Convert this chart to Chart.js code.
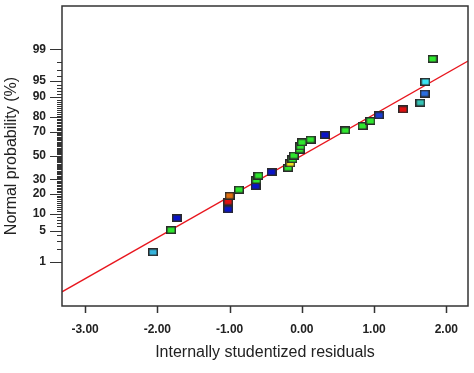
<!DOCTYPE html>
<html lang="en">
<head>
  <meta charset="UTF-8">
  <title>Normal probability plot of residuals</title>
  <script src="https://cdn.jsdelivr.net/npm/chart.js"></script>
  <style>
    html, body { margin: 0; padding: 0; background: #fff; }
  </style>
</head>
<body>
<canvas id="plot" width="474" height="373"></canvas>
<script>
  // residuals, sorted
  const residuals = [-2.06, -1.81, -1.73, -1.02, -1.02, -1.00, -0.87, -0.64, -0.63, -0.60,
                     -0.42, -0.19, -0.16, -0.13, -0.11, -0.03, -0.02, 0.00, 0.12, 0.32,
                     0.60, 0.84, 0.95, 1.07, 1.40, 1.64, 1.70, 1.71, 1.81];
  // normal probability (%) of each point
  const probPct = [1.7, 5.1, 8.5, 11.9, 15.6, 18.9, 22.7, 25.1, 29.5, 33.0,
                   35.9, 39.4, 43.2, 46.8, 50.0, 55.2, 57.9, 61.4, 63.7, 67.4,
                   70.9, 74.2, 77.6, 81.1, 84.4, 87.7, 91.3, 94.7, 98.3];
  const pointColors = ['#36b4dc', '#2ee62e', '#0a14c8', '#0a14c8', '#e01010', '#e07010', '#2ee62e', '#0a14c8', '#2ee62e', '#2ee62e',
                       '#0a14c8', '#2ee62e', '#f0e020', '#2ee62e', '#2ee62e', '#2ee62e', '#2ee62e', '#2ee62e', '#2ee62e', '#0a14c8',
                       '#2ee62e', '#2ee62e', '#2ee62e', '#1a3cd0', '#e01010', '#35c3b5', '#2a6ee0', '#3ae4f4', '#2ee62e'];

  // reference line ends
  const lineX = [-3.32, 2.30];
  const linePct = [0.14, 98.1];

  const xTicks = [-3, -2, -1, 0, 1, 2];
  const yLabels = [1, 5, 10, 20, 30, 50, 70, 80, 90, 95, 99];
  const yTickPct = [];
  for (let p = 1; p <= 99; p++) yTickPct.push(p);

  // inverse normal cdf (Acklam)
  function probit(p) {
    const a = [-3.969683028665376e+01, 2.209460984245205e+02, -2.759285104469687e+02, 1.383577518672690e+02, -3.066479806614716e+01, 2.506628277459239e+00];
    const b = [-5.447609879822406e+01, 1.615858368580409e+02, -1.556989798598866e+02, 6.680131188771972e+01, -1.328068155288572e+01];
    const c = [-7.784894002430293e-03, -3.223964580411365e-01, -2.400758277161838e+00, -2.549732539343734e+00, 4.374664141464968e+00, 2.938163982698783e+00];
    const d = [7.784695709041462e-03, 3.224671290700398e-01, 2.445134137142996e+00, 3.754408661907416e+00];
    const pl = 0.02425;
    if (p < pl) {
      const q = Math.sqrt(-2 * Math.log(p));
      return (((((c[0]*q+c[1])*q+c[2])*q+c[3])*q+c[4])*q+c[5]) / ((((d[0]*q+d[1])*q+d[2])*q+d[3])*q+1);
    }
    if (p > 1 - pl) {
      const q = Math.sqrt(-2 * Math.log(1 - p));
      return -(((((c[0]*q+c[1])*q+c[2])*q+c[3])*q+c[4])*q+c[5]) / ((((d[0]*q+d[1])*q+d[2])*q+d[3])*q+1);
    }
    const q = p - 0.5, r = q * q;
    return (((((a[0]*r+a[1])*r+a[2])*r+a[3])*r+a[4])*r+a[5])*q / (((((b[0]*r+b[1])*r+b[2])*r+b[3])*r+b[4])*r+1);
  }

  // small rectangle markers
  function box(fill) {
    const c = document.createElement('canvas');
    c.width = 10; c.height = 8;
    const g = c.getContext('2d');
    g.fillStyle = '#2a2a2a';
    g.fillRect(0, 0, 10, 8);
    g.fillStyle = fill;
    g.fillRect(1.5, 1.5, 7, 5);
    return c;
  }

  const points = residuals.map((r, i) => ({ x: r, y: probit(probPct[i] / 100) }));
  const fitLine = lineX.map((v, i) => ({ x: v, y: probit(linePct[i] / 100) }));

  const frame = {
    id: 'frame',
    afterDatasetsDraw(chart) {
      const { ctx, chartArea: a, scales: { x, y } } = chart;
      ctx.save();
      ctx.strokeStyle = '#333';
      ctx.lineWidth = 1.5;
      ctx.strokeRect(a.left, a.top, a.right - a.left, a.bottom - a.top);
      ctx.beginPath();
      xTicks.forEach(v => {
        const px = Math.round(x.getPixelForValue(v)) + 0.5;
        ctx.moveTo(px, a.bottom);
        ctx.lineTo(px, a.bottom + 7);
      });
      ctx.stroke();
      ctx.lineWidth = 1;
      ctx.beginPath();
      yTickPct.forEach(p => {
        const py = Math.round(y.getPixelForValue(probit(p / 100))) + 0.5;
        const len = yLabels.includes(p) ? 12 : 5;
        ctx.moveTo(a.left - len, py);
        ctx.lineTo(a.left, py);
      });
      ctx.stroke();
      ctx.restore();
    }
  };

  const tickFont = { family: "'Liberation Sans', Arial, sans-serif", size: 12, weight: 'bold' };
  const titleFont = { family: "'Liberation Sans', Arial, sans-serif", size: 16 };

  new Chart(document.getElementById('plot'), {
    type: 'scatter',
    data: {
      datasets: [
        {
          data: points,
          pointStyle: pointColors.map(box),
          pointRadius: 5,
          pointHoverRadius: 5
        },
        {
          type: 'line',
          data: fitLine,
          borderColor: '#e8161e',
          borderWidth: 1.3,
          pointRadius: 0,
          fill: false
        }
      ]
    },
    options: {
      responsive: false,
      animation: false,
      devicePixelRatio: 1,
      events: [],
      layout: { padding: { top: 1, right: 6, left: 0, bottom: 0 } },
      plugins: { legend: { display: false }, tooltip: { enabled: false } },
      scales: {
        x: {
          type: 'linear',
          min: -3.32,
          max: 2.30,
          afterBuildTicks: s => { s.ticks = xTicks.map(v => ({ value: v })); },
          afterFit: s => { s.height = 67; s.paddingLeft = 0; s.paddingRight = 0; },
          grid: { display: false, drawTicks: false },
          border: { display: false },
          ticks: { callback: v => v.toFixed(2), font: tickFont, color: '#222', padding: 16, maxRotation: 0, autoSkip: false },
          title: { display: true, text: 'Internally studentized residuals', font: titleFont, color: '#222', padding: { top: 0, bottom: 11 } }
        },
        y: {
          type: 'linear',
          min: -3.30,
          max: 3.28,
          afterBuildTicks: s => { s.ticks = yTickPct.map(p => ({ value: probit(p / 100) })); },
          afterFit: s => { s.width = 62; s.paddingTop = 0; s.paddingBottom = 0; },
          grid: { display: false, drawTicks: false },
          border: { display: false },
          ticks: {
            callback: (v, i) => yLabels.includes(yTickPct[i]) ? String(yTickPct[i]) : '',
            font: tickFont, color: '#222', padding: 16, autoSkip: false
          },
          title: { display: true, text: 'Normal probability (%)', font: titleFont, color: '#222', padding: { top: 1.5, bottom: 0 } }
        }
      }
    },
    plugins: [frame]
  });
</script>
</body>
</html>
